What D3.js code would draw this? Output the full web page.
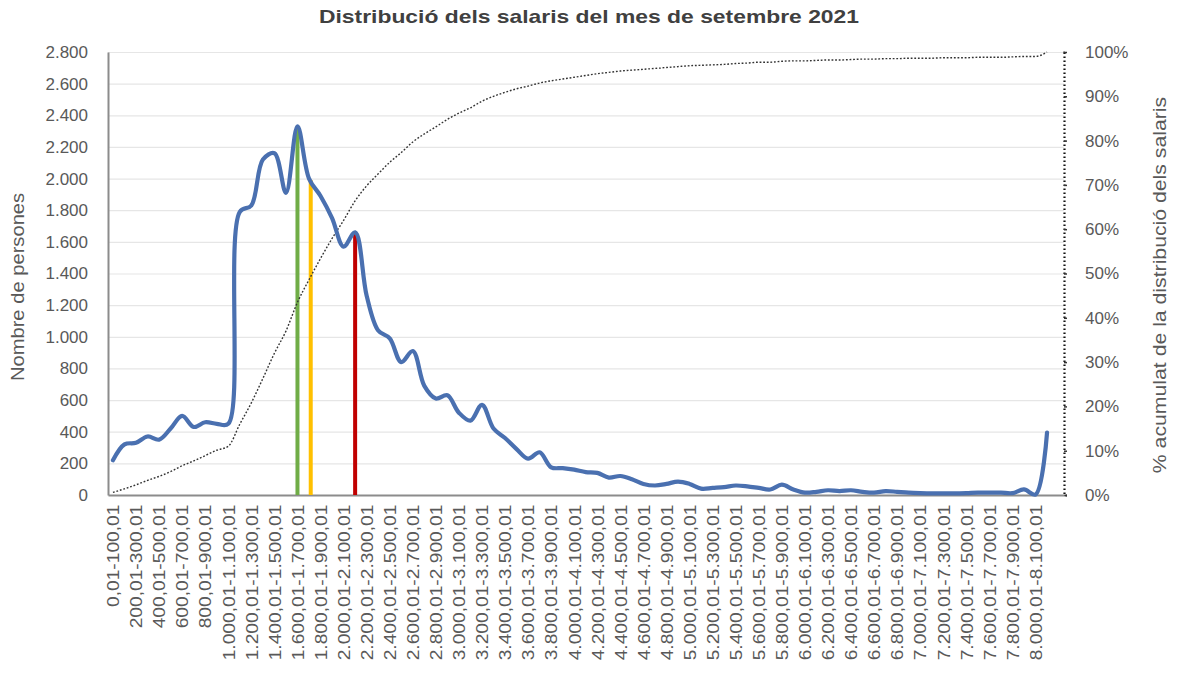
<!DOCTYPE html>
<html>
<head>
<meta charset="utf-8">
<script src="https://cdn.jsdelivr.net/npm/d3@7"></script>
<style>
  html, body { margin: 0; padding: 0; background: #ffffff; }
  svg { display: block; font-family: "Liberation Sans", Arial, sans-serif; }
</style>
</head>
<body>
<svg id="chart" width="1200" height="675"></svg>
<script>
// ---------------- DATA ----------------
const title = "Distribució dels salaris del mes de setembre 2021";
const yTitle = "Nombre de persones";
const y2Title = "% acumulat de la distribució dels salaris";

const categories = [
  "0,01-100,01","100,01-200,01","200,01-300,01","300,01-400,01","400,01-500,01",
  "500,01-600,01","600,01-700,01","700,01-800,01","800,01-900,01","900,01-1.000,01",
  "1.000,01-1.100,01","1.100,01-1.200,01","1.200,01-1.300,01","1.300,01-1.400,01","1.400,01-1.500,01",
  "1.500,01-1.600,01","1.600,01-1.700,01","1.700,01-1.800,01","1.800,01-1.900,01","1.900,01-2.000,01",
  "2.000,01-2.100,01","2.100,01-2.200,01","2.200,01-2.300,01","2.300,01-2.400,01","2.400,01-2.500,01",
  "2.500,01-2.600,01","2.600,01-2.700,01","2.700,01-2.800,01","2.800,01-2.900,01","2.900,01-3.000,01",
  "3.000,01-3.100,01","3.100,01-3.200,01","3.200,01-3.300,01","3.300,01-3.400,01","3.400,01-3.500,01",
  "3.500,01-3.600,01","3.600,01-3.700,01","3.700,01-3.800,01","3.800,01-3.900,01","3.900,01-4.000,01",
  "4.000,01-4.100,01","4.100,01-4.200,01","4.200,01-4.300,01","4.300,01-4.400,01","4.400,01-4.500,01",
  "4.500,01-4.600,01","4.600,01-4.700,01","4.700,01-4.800,01","4.800,01-4.900,01","4.900,01-5.000,01",
  "5.000,01-5.100,01","5.100,01-5.200,01","5.200,01-5.300,01","5.300,01-5.400,01","5.400,01-5.500,01",
  "5.500,01-5.600,01","5.600,01-5.700,01","5.700,01-5.800,01","5.800,01-5.900,01","5.900,01-6.000,01",
  "6.000,01-6.100,01","6.100,01-6.200,01","6.200,01-6.300,01","6.300,01-6.400,01","6.400,01-6.500,01",
  "6.500,01-6.600,01","6.600,01-6.700,01","6.700,01-6.800,01","6.800,01-6.900,01","6.900,01-7.000,01",
  "7.000,01-7.100,01","7.100,01-7.200,01","7.200,01-7.300,01","7.300,01-7.400,01","7.400,01-7.500,01",
  "7.500,01-7.600,01","7.600,01-7.700,01","7.700,01-7.800,01","7.800,01-7.900,01","7.900,01-8.000,01",
  "8.000,01-8.100,01",">8.100,01"
];

// Nombre de persones per tram
const persons = [
  220, 320, 330, 370, 350, 420, 500, 430, 460, 450,
  450, 1790, 1830, 2120, 2160, 1910, 2330, 2000, 1890, 1750,
  1570, 1660, 1260, 1040, 990, 840, 910, 690, 610, 630,
  520, 470, 570, 420, 360, 290, 230, 270, 175, 170,
  160, 145, 140, 110, 120, 100, 70, 60, 70, 85,
  70, 40, 45, 50, 60, 55, 45, 35, 65, 35,
  15, 20, 30, 25, 30, 20, 15, 25, 20, 15,
  12, 10, 10, 10, 12, 15, 15, 15, 12, 35,
  3, 395
];

// % acumulat
const cumulativePct = [
  0.6, 1.4, 2.3, 3.3, 4.2, 5.3, 6.6, 7.7, 8.9, 10.1,
  11.0, 16.0, 20.8, 26.3, 32.0, 37.0, 43.5, 48.6, 53.4, 57.9,
  62.0, 66.4, 69.8, 72.5, 75.1, 77.3, 79.7, 81.5, 83.1, 84.8,
  86.2, 87.4, 88.9, 90.0, 90.9, 91.7, 92.3, 93.0, 93.5, 93.9,
  94.3, 94.7, 95.1, 95.4, 95.7, 95.9, 96.1, 96.3, 96.5, 96.7,
  96.9, 97.0, 97.1, 97.2, 97.4, 97.5, 97.7, 97.7, 97.9, 98.0,
  98.0, 98.1, 98.2, 98.2, 98.3, 98.4, 98.4, 98.5, 98.5, 98.6,
  98.6, 98.6, 98.7, 98.7, 98.7, 98.8, 98.8, 98.8, 98.9, 99.0,
  99.0, 100
];

// Línies verticals (moda, mediana, mitjana) — posició en l'eix de trams i alçada
const markerNames = ["Moda", "Mediana", "Mitjana"];
const markerPos = [16, 17.15, 21];
const markerTop = [2330, 1990, 1655];
const markerColors = ["#70AD47", "#FFC000", "#C00000"];

const yTicks = [0, 200, 400, 600, 800, 1000, 1200, 1400, 1600, 1800, 2000, 2200, 2400, 2600, 2800];
const y2Ticks = [0, 10, 20, 30, 40, 50, 60, 70, 80, 90, 100];

// ---------------- CHART ----------------
const svg = d3.select("#chart");
const plotLeft = 108, plotRight = 1064, plotTop = 52, plotBottom = 495;
const textColor = "#595959";

const loc = d3.formatLocale({decimal: ",", thousands: ".", grouping: [3], currency: ["", "€"]});
const fmt = loc.format(",d");

const x = d3.scaleLinear().domain([-0.43, categories.length + 0.47]).range([plotLeft, plotRight]);
const y = d3.scaleLinear().domain([0, 2800]).range([plotBottom, plotTop]);
const y2 = d3.scaleLinear().domain([0, 100]).range([plotBottom, plotTop]);

// gridlines
const grid = svg.append("g").attr("transform", `translate(${plotLeft},0)`)
  .call(d3.axisLeft(y).tickValues(yTicks.slice(1)).tickSize(-(plotRight - plotLeft)).tickFormat(""));
grid.select(".domain").remove();
grid.selectAll("line").attr("stroke", "#e6e6e6").attr("stroke-width", 1.2);

// left axis
const gy = svg.append("g").attr("transform", `translate(${plotLeft},0)`)
  .call(d3.axisLeft(y).tickValues(yTicks).tickSize(0).tickPadding(20).tickFormat(d => fmt(d)));
gy.select(".domain").attr("stroke", "#8c8c8c").attr("stroke-width", 2);
gy.selectAll("text").attr("fill", textColor).style("font-size", "17px");

// right axis
const gy2 = svg.append("g").attr("transform", `translate(${plotRight},0)`)
  .call(d3.axisRight(y2).tickValues(y2Ticks).tickSize(3).tickPadding(18).tickFormat(d => d + "%"));
gy2.select(".domain").attr("stroke", "#111").attr("stroke-width", 2.2).attr("stroke-dasharray", "1.6,2.4");
gy2.selectAll("line").attr("stroke", "#333").attr("stroke-width", 1.5);
gy2.selectAll("text").attr("fill", textColor).style("font-size", "17px");

// bottom axis
const tickIdx = d3.range(0, categories.length).filter(i => i % 2 === 0 && i <= 80);
const gx = svg.append("g").attr("transform", `translate(0,${plotBottom})`)
  .call(d3.axisBottom(x).tickValues(tickIdx).tickSize(0).tickFormat(i => categories[i]));
gx.select(".domain").attr("stroke", "#8c8c8c").attr("stroke-width", 2.2);
gx.selectAll("text")
  .attr("transform", "rotate(-90) scale(1.2,1)")
  .attr("x", -8).attr("y", 0).attr("dy", "0.36em")
  .style("text-anchor", "end")
  .attr("fill", textColor)
  .style("font-size", "16px");

// vertical marker lines
svg.append("g").selectAll("line").data(markerPos).join("line")
  .attr("x1", d => x(d)).attr("x2", d => x(d))
  .attr("y1", y(0)).attr("y2", (d, i) => y(markerTop[i]))
  .attr("stroke", (d, i) => markerColors[i])
  .attr("stroke-width", 4);

// cumulative line
const cumLine = d3.line().x((d, i) => x(i)).y(d => y2(d)).curve(d3.curveMonotoneX);
svg.append("path").datum(cumulativePct)
  .attr("d", cumLine)
  .attr("fill", "none").attr("stroke", "#333").attr("stroke-width", 1.4)
  .attr("stroke-dasharray", "1.8,1.8");

// persons line
const line = d3.line().x((d, i) => x(i)).y(d => y(d)).curve(d3.curveCatmullRom.alpha(0.5));
svg.append("path").datum(persons)
  .attr("d", line)
  .attr("fill", "none").attr("stroke", "#4A70B0").attr("stroke-width", 4.2)
  .attr("stroke-linejoin", "round").attr("stroke-linecap", "round");

// titles
svg.append("text").attr("x", 589).attr("y", 23)
  .attr("text-anchor", "middle").attr("fill", "#404040")
  .style("font-size", "19px").style("font-weight", "bold")
  .attr("textLength", 540).attr("lengthAdjust", "spacingAndGlyphs")
  .text(title);

svg.append("text").attr("transform", "translate(24,287) rotate(-90) scale(1.12,1)")
  .attr("text-anchor", "middle").attr("fill", textColor)
  .style("font-size", "18px").text(yTitle);

svg.append("text").attr("transform", "translate(1166,285) rotate(-90) scale(1.18,1)")
  .attr("text-anchor", "middle").attr("fill", textColor)
  .style("font-size", "18px").text(y2Title);
</script>
</body>
</html>
